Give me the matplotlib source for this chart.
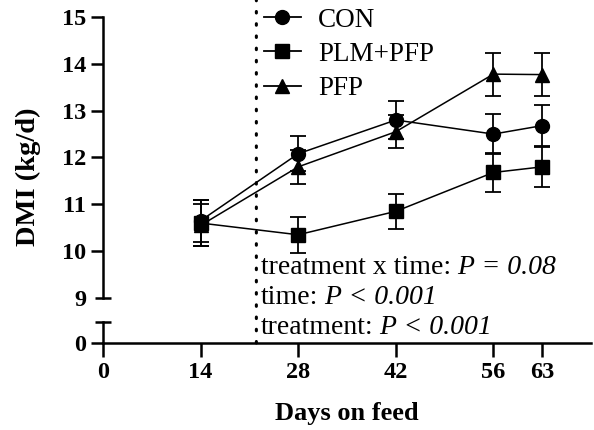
import matplotlib
matplotlib.use("Agg")
import matplotlib.pyplot as plt
from matplotlib.patches import ConnectionPatch
from matplotlib.lines import Line2D

plt.rcParams['font.family'] = ['Liberation Serif', 'DejaVu Serif']

days = [14, 28, 42, 56, 63]
con = [10.65, 12.08, 12.8, 12.5, 12.68]
con_err = [0.45, 0.37, 0.4, 0.43, 0.44]
plm_pfp = [10.6, 10.35, 10.85, 11.68, 11.8]
plm_pfp_err = [0.5, 0.38, 0.38, 0.42, 0.43]
pfp = [10.55, 11.8, 12.55, 13.78, 13.77]
pfp_err = [0.45, 0.36, 0.35, 0.46, 0.46]

x_ticks = [0, 14, 28, 42, 56, 63]
y_ticks = [10, 11, 12, 13, 14, 15]
start_day = 22

stats_plain = ['treatment x time:', 'time:', 'treatment:']
stats_p = ['P = 0.08', 'P < 0.001', 'P < 0.001']

fig = plt.figure(figsize=(5.94, 4.3), dpi=100)
ax = fig.add_axes([0.1734, 0.307, 0.8215, 0.6535])
ax_low = fig.add_axes([0.1734, 0.2023, 0.8215, 0.0488])

lw_axis = 1.8
series = [(con, con_err, 'o', 'CON'),
          (plm_pfp, plm_pfp_err, 's', 'PLM+PFP'),
          (pfp, pfp_err, '^', 'PFP')]
handles = []
for vals, errs, mk, name in series:
    ax.errorbar(days, vals, yerr=errs, marker=mk, color='black', ms=10,
                lw=1.1, elinewidth=1.3, capsize=5.5, capthick=1.3, clip_on=False)
    handles.append(Line2D([], [], color='black', marker=mk, ms=10, lw=1.3, label=name))

for a in (ax, ax_low):
    a.set_xlim(0, 70)
    a.spines['top'].set_visible(False)
    a.spines['right'].set_visible(False)
    a.spines['left'].set_linewidth(lw_axis)
    a.spines['bottom'].set_linewidth(lw_axis)
    a.tick_params(width=lw_axis, length=9, labelsize=17.5, pad=3)
    a.patch.set_alpha(0)

ax.set_ylim(9, 15)
ax.spines['left'].set_bounds(9, 15)
ax.spines['bottom'].set_visible(False)
ax.set_xticks([])
ax.set_yticks(y_ticks)
ax.set_yticklabels([str(v) for v in y_ticks], fontweight='bold')
# the end tick at 9 crosses the spine
ax.set_yticks([9], minor=True)
ax.set_yticklabels(['9'], minor=True, fontweight='bold')
ax.tick_params(axis='y', which='minor', direction='inout', length=11.5, width=lw_axis,
               labelsize=17.5, pad=6)

ax_low.set_ylim(0, 0.6)
ax_low.set_yticks([0])
ax_low.set_yticklabels(['0'], fontweight='bold')
ax_low.set_yticks([0.6], minor=True)
ax_low.tick_params(axis='y', which='minor', direction='inout', length=11.5, width=lw_axis)
ax_low.set_xticks(x_ticks)
ax_low.set_xticklabels([str(v) for v in x_ticks], fontweight='bold')
ax_low.tick_params(axis='x', length=10, pad=4)
ax_low.set_xlabel('Days on feed', fontsize=19, fontweight='bold', labelpad=13)

ax.set_ylabel('DMI (kg/d)', fontsize=20.5, fontweight='bold')
ax.yaxis.set_label_coords(-0.127, 0.43)

# dotted line marking the start of treatment
con_line = ConnectionPatch(xyA=(start_day, 0), coordsA=ax_low.transData,
                           xyB=(start_day, 15.38), coordsB=ax.transData,
                           linestyle=(0, (0.5, 3.5)), lw=2.2, color='black',
                           capstyle='round')
fig.add_artist(con_line)

ax.legend(handles=handles, loc='upper left', bbox_to_anchor=(0.28, 1.12), frameon=False,
          fontsize=19.5, handlelength=1.35, handletextpad=0.65, labelspacing=0.34)

for i, (s, p) in enumerate(zip(stats_plain, stats_p)):
    t = ax.text(start_day + 0.6, 9.66 - i * 0.64, s, fontsize=20, va='center', ha='left',
                clip_on=False)
    ax.annotate(' ' + p, xy=(1, 0), xycoords=t, va='bottom', ha='left',
                fontsize=20, fontstyle='italic', annotation_clip=False)

fig.savefig('out.png', dpi=100)
